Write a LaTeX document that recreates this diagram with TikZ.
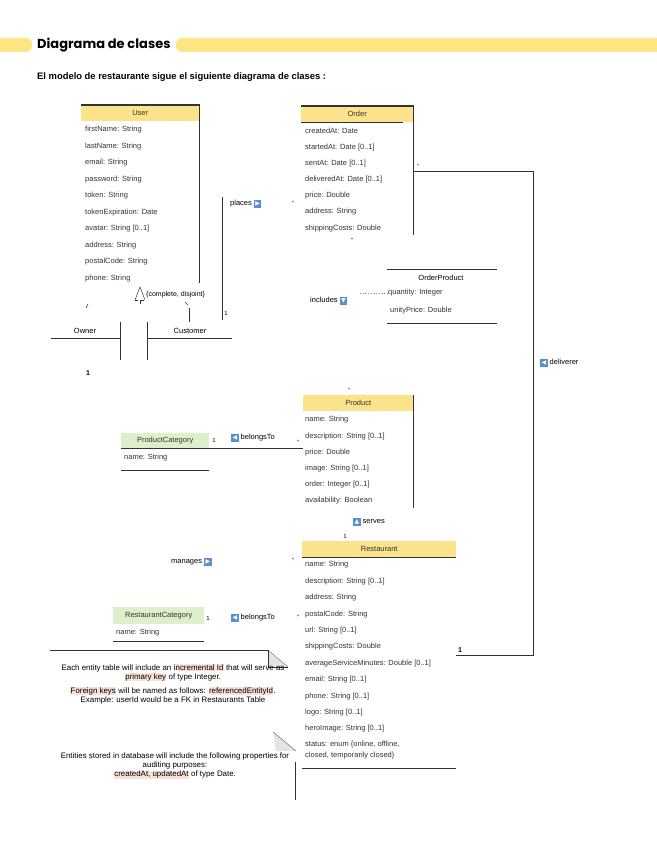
\documentclass[tikz,border=0pt]{standalone}
\usepackage{fontspec}
\setmainfont{Liberation Sans}
\newfontfamily\symfont{DejaVu Sans}
\newfontfamily\titlefont{Poppins}
\usetikzlibrary{positioning}
\definecolor{umlyellow}{HTML}{FBE38C}
\definecolor{titleyellow}{HTML}{FFE684}
\definecolor{umlgreen}{HTML}{DDF0CB}
\definecolor{umldark}{HTML}{333333}
\definecolor{iconblue}{HTML}{5B8FCB}
\definecolor{notepink}{HTML}{F9E1D8}
\definecolor{foldgray}{HTML}{E4E4E4}
\newcommand\attrsize{\fontsize{7.5}{9}\selectfont}
\newcommand\associcon[1]{{\setlength\fboxsep{1.4pt}\colorbox{iconblue}{\textcolor{white}{\symfont\fontsize{6}{6}\selectfont #1}}}}
\newcommand\hlt[1]{{\setlength\fboxsep{0.3pt}\colorbox{notepink}{#1}}}

\begin{document}
\begin{tikzpicture}[
  x=1pt, y=-1pt,
  hdr/.style={anchor=north west, inner sep=0pt, minimum height=16pt,
    font=\attrsize, text=umldark},
  attr/.style={anchor=west, inner sep=0pt, font=\attrsize, text=umldark},
  frame/.style={draw=umldark, line width=1.3pt},
  rule/.style={draw=umldark, line width=1pt},
  mult/.style={inner sep=0pt, font=\attrsize},
  star/.style={inner sep=0pt, font=\fontsize{5}{5}\selectfont},
  role/.style={anchor=west, inner sep=0pt, font=\attrsize},
  note/.style={anchor=north, align=center, inner sep=0pt,
    font=\fontsize{7.9}{9}\selectfont}
]
  \useasboundingbox[fill=white] (0,0) rectangle (656,848);

  % Title
  \fill[titleyellow, rounded corners=6pt] (-12,38) rectangle (32,52);
  \fill[titleyellow, rounded corners=6pt] (176,38) rectangle (670,52);
  \node[anchor=west, inner sep=0pt, font=\titlefont\bfseries\fontsize{13}{13}\selectfont]
    (title) at (37,45) {Diagrama de clases};
  \node[anchor=west, inner sep=0pt, font=\bfseries\fontsize{9.4}{10}\selectfont]
    (intro) at (37,77) {El modelo de restaurante sigue el siguiente diagrama de clases :};

  % User
  \node[hdr, fill=umlyellow, minimum width=118pt] (user) at (81,105) {User};
  \draw[frame] (user.north west) -- (user.north east) -- ++(0,178);
  \foreach \t [count=\i] in {firstName: String, lastName: String, email: String,
    password: String, token: String, tokenExpiration: Date, avatar: String [0..1],
    address: String, postalCode: String, phone: String} {
    \node[attr] (user-a\i) at ({85}, {130+16.5*(\i-1)}) {\t};
  }

  % Owner / Customer
  \coordinate (gen) at (140,287);
  \draw[umldark, line width=0.5pt] (135,300) -- (gen) -- (145,300);
  \draw[umldark, dashed, line width=0.5pt] (135,300) -- (145,300);
  \draw[umldark, line width=0.5pt] (140,300) -- (140,304);
  \node[anchor=west, inner sep=0pt, font=\fontsize{7}{8}\selectfont]
    (gen-label) at (146,295) {\{complete, disjoint\}};
  \draw[umldark, line width=0.5pt] (86,308) -- (88,304);
  \draw[umldark, line width=0.5pt] (185,302) -- (188,305);
  \draw[rule] (189,308) -- (189,322);
  \node[mult] (owner) at (85,331) {Owner};
  \draw[rule] (51,338) -- (120,338);
  \draw[rule] (120,322) -- (120,360);
  \node[mult] (customer) at (190,331) {Customer};
  \draw[rule] (147,322) -- (147,360);
  \draw[rule] (147,338) -- (232,338);
  \node[mult, font=\bfseries\fontsize{7}{8}\selectfont] (owner-mult) at (88,373) {1};

  % places
  \coordinate (places-a) at (222,197);
  \coordinate (places-b) at (222,320);
  \draw[rule] (places-a) -- (places-b);
  \node[mult, font=\fontsize{6}{6}\selectfont] (places-one) at (226,313) {1};
  \node[role] (places) at (230,204) {places \associcon{▶}};
  \node[star] (places-star) at (293,203) {*};

  % Order
  \node[hdr, fill=umlyellow, minimum width=112pt] (order) at (301,106) {Order};
  \draw[frame] (order.north west) -- (order.north east) -- ++(0,129);
  \draw[rule] (order.south west) -- ++(102,0);
  \foreach \t [count=\i] in {createdAt: Date, startedAt: Date [0..1],
    sentAt: Date [0..1], deliveredAt: Date [0..1], price: Double,
    address: String, shippingCosts: Double} {
    \node[attr] (order-a\i) at ({305}, {131+16.2*(\i-1)}) {\t};
  }
  \node[star] (order-star) at (352,240) {*};

  % deliverer
  \coordinate (deliv-a) at (413,171);
  \coordinate (deliv-b) at (533,171);
  \coordinate (deliv-c) at (533,655);
  \coordinate (deliv-d) at (456,655);
  \draw[rule] (deliv-a) -- (deliv-b) -- (deliv-c) -- (deliv-d);
  \node[star] (deliv-star) at (418,166) {*};
  \node[role] (deliverer) at (540,363) {\associcon{◀} deliverer};
  \node[mult, font=\bfseries\fontsize{7}{8}\selectfont] (deliv-one) at (460,650) {1};

  % OrderProduct
  \draw[rule] (387,269) -- (497,269);
  \node[mult] (orderproduct) at (441,278) {OrderProduct};
  \node[attr] (op-a1) at (388,293) {quantity: Integer};
  \node[attr] (op-a2) at (390,311) {unityPrice: Double};
  \draw[rule] (387,323) -- (497,323);
  \node[role] (includes) at (310,301) {includes \associcon{▼}};
  \coordinate (incl-mid) at (360,293);
  \draw[gray, dotted, line width=0.7pt] (incl-mid) -- (op-a1.west);

  % Product
  \node[star] (product-star) at (349,390) {*};
  \node[hdr, fill=umlyellow, minimum width=110pt] (product) at (303,395) {Product};
  \draw[frame] (product.north east) -- ++(0,113);
  \foreach \t [count=\i] in {name: String, description: String [0..1],
    price: Double, image: String [0..1], order: Integer [0..1],
    availability: Boolean} {
    \node[attr] (product-a\i) at ({305}, {420+16.2*(\i-1)}) {\t};
  }

  % ProductCategory
  \node[hdr, fill=umlgreen, minimum width=88pt, minimum height=15pt]
    (prodcat) at (121,433) {ProductCategory};
  \draw[rule] (prodcat.south west) -- (prodcat.south east);
  \node[attr] (prodcat-a1) at (124,458) {name: String};
  \draw[rule] (121,470) -- (209,470);
  \draw[rule] (prodcat.south east) -- (prodcat.south east -| product.west);
  \node[mult, font=\fontsize{6}{6}\selectfont] (prodcat-one) at (214,440) {1};
  \node[role] (belongs-prod) at (231,438) {\associcon{◀} belongsTo};
  \node[star] (belongs-prod-star) at (298,442) {*};

  % serves
  \node[role] (serves) at (353,522) {\associcon{▲} serves};
  \node[mult, font=\fontsize{6}{6}\selectfont] (serves-one) at (345,536) {1};

  % Restaurant
  \node[hdr, fill=umlyellow, minimum width=154pt] (restaurant) at (302,541) {Restaurant};
  \draw[rule] (restaurant.south west) -- (restaurant.south east);
  \foreach \t [count=\i] in {name: String, description: String [0..1],
    address: String, postalCode: String, url: String [0..1],
    shippingCosts: Double, averageServiceMinutes: Double [0..1],
    email: String [0..1], phone: String [0..1], logo: String [0..1],
    heroImage: String [0..1]} {
    \node[attr] (rest-a\i) at ({305}, {565+16.4*(\i-1)}) {\t};
  }
  \node[attr] (rest-a12) at (305,745) {status: enum \{online, offline,};
  \node[attr] (rest-a13) at (305,756) {closed, temporarily closed\}};
  \draw[rule] (302,768) -- (456,768);
  \node[role] (manages) at (171,562) {manages \associcon{▶}};
  \node[star] (manages-star) at (293,560) {*};

  % RestaurantCategory
  \node[hdr, fill=umlgreen, minimum width=91pt, minimum height=17pt]
    (restcat) at (113,607) {RestaurantCategory};
  \node[attr] (restcat-a1) at (116,633) {name: String};
  \draw[rule] (113,641) -- (204,641);
  \node[mult, font=\fontsize{6}{6}\selectfont] (restcat-one) at (208,618) {1};
  \node[role] (belongs-rest) at (231,618) {\associcon{◀} belongsTo};
  \node[star] (belongs-rest-star) at (298,617) {*};

  % Notes
  \draw[rule] (50,650) -- (268,650);
  \fill[foldgray] (268,650) -- (288,667) -- (268,667) -- cycle;
  \draw[gray, line width=0.5pt] (268,650) -- (288,667);
  \draw[rule] (268,650) -- (268,667) -- (288,667);
  \node[note] (note-keys) at (173,664) {Each entity table will include an
    \hlt{incremental Id} that will serve as\\ \hlt{primary key} of type Integer.\\[5pt]
    \hlt{Foreign keys} will be named as follows: \hlt{referencedEntityId}.\\
    Example: userId would be a FK in Restaurants Table};
  \fill[foldgray] (273,732) -- (296,751) -- (276,751) -- cycle;
  \draw[gray, line width=0.6pt] (273,732) -- (296,751);
  \draw[rule] (295,762) -- (295,800);
  \node[note] (note-audit) at (175,753) {Entities stored in database will include
    the following properties for\\ auditing purposes:\\
    \hlt{createdAt, updatedAt} of type Date.};
\end{tikzpicture}
\end{document}
